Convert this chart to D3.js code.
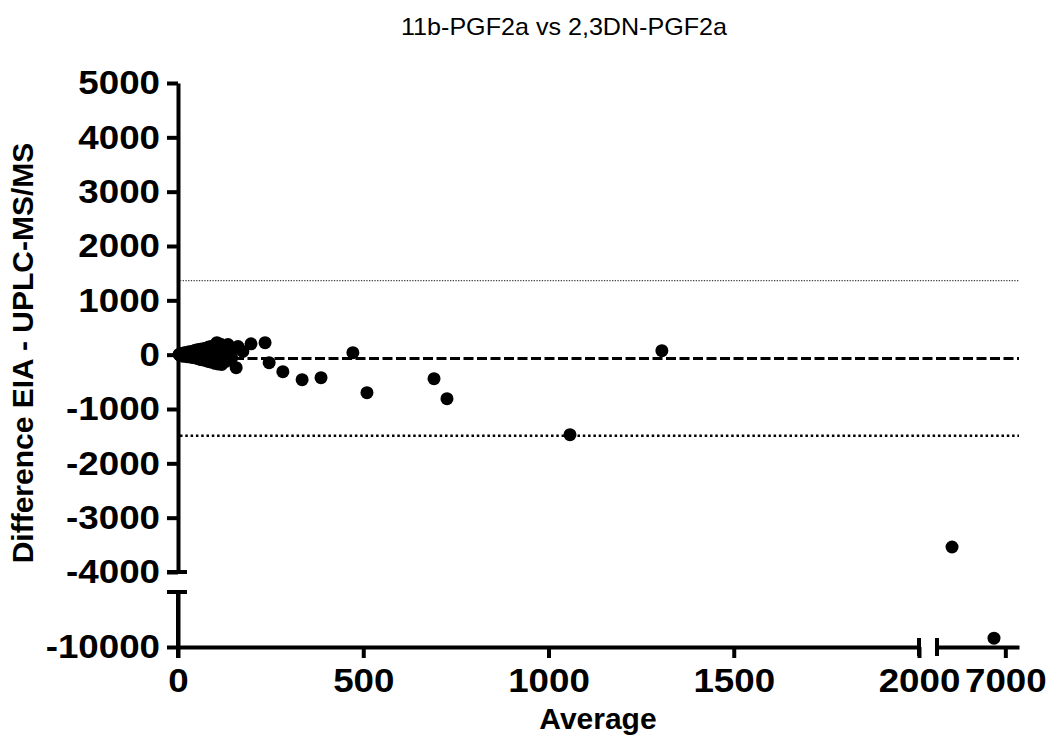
<!DOCTYPE html>
<html>
<head>
<meta charset="utf-8">
<script src="https://cdn.jsdelivr.net/npm/d3@7"></script>
<style>
  body { margin: 0; background: #fff; }
  svg text { font-family: "Liberation Sans", Arial, sans-serif; }
</style>
</head>
<body>
<div id="chart"></div>
<script>
// data
const averages = [3, 5, 6, 8, 10, 12, 14, 15, 18, 20, 22, 25, 27, 30, 32, 35, 38, 40, 42, 45,
  48, 50, 52, 55, 58, 60, 62, 65, 68, 70, 72, 75, 78, 80, 83, 85, 88, 90, 92, 95,
  98, 100, 103, 105, 108, 110, 115, 118, 120, 125, 130, 135, 140, 145, 150, 157, 162, 175,
  197, 235, 246, 283, 335, 386, 472, 510, 691, 726, 1058, 1306, 5050, 6585];
const differences = [5, -8, 12, -15, 20, -10, 25, -30, 35, -20, 10, 40, -40, 55, -25, 30, -50, 65, -10, 75,
  -60, 20, 90, -75, 40, 100, -90, -20, 110, -100, 60, 120, -115, 0, 140, -130, 80, 150, -140, -60,
  170, -160, 110, 220, -170, 30, 190, -180, -90, 160, -120, 185, 80, -60, 120, -240, 150, 60,
  200, 220, -147, -313, -460, -424, 37, -700, -442, -810, -1473, 74, -3540, -9840];

const biasLines = [
  {name: "upper", value: 1363},
  {name: "mean", value: -70},
  {name: "lower", value: -1492}
];

const yTicksUpper = [5000, 4000, 3000, 2000, 1000, 0, -1000, -2000, -3000, -4000];
const yTicksLower = [-10000];
const xTicksMain = [0, 500, 1000, 1500, 2000];
const xTicksBroken = [7000];

const title = "11b-PGF2a vs 2,3DN-PGF2a";
const xTitle = "Average";
const yTitle = "Difference EIA - UPLC-MS/MS";

const width = 1049, height = 738;

const svg = d3.select("#chart").append("svg")
    .attr("width", width)
    .attr("height", height);

// broken scales
const x1 = d3.scaleLinear().domain([0, 2000]).range([178, 919]);
const x2 = d3.scaleLinear().domain([4500, 7500]).range([937, 1019]);
const y1 = d3.scaleLinear().domain([-4000, 5000]).range([572, 83]);
const y2 = d3.scaleLinear().domain([-10000, -9000]).range([647, 592]);

const xPos = a => a <= 2000 ? x1(a) : x2(a);
const yPos = d => d >= -4000 ? y1(d) : y2(d);

const xAxisY = 647, yAxisX = 178;
const fmt = d => String(d); // plain hyphen minus like the original

function styleAxis(g) {
    g.selectAll("path.domain").attr("stroke", "#000").attr("stroke-width", 4);
    g.selectAll(".tick line").attr("stroke", "#000").attr("stroke-width", 4);
    g.selectAll("text")
        .attr("fill", "#000")
        .style("font-size", "34px")
        .style("font-weight", "bold")
        .each(function() {
            // the original labels are a little wider than Liberation Sans
            const w = this.getComputedTextLength();
            d3.select(this).attr("textLength", w * 1.08).attr("lengthAdjust", "spacingAndGlyphs");
        });
}

// y axis, upper part
svg.append("g")
    .attr("transform", `translate(${yAxisX},0)`)
    .call(d3.axisLeft(y1).tickValues(yTicksUpper).tickFormat(fmt)
        .tickSize(11).tickSizeOuter(0).tickPadding(7))
    .call(styleAxis);

// y axis, lower part
svg.append("g")
    .attr("transform", `translate(${yAxisX},0)`)
    .call(d3.axisLeft(y2).tickValues(yTicksLower).tickFormat(fmt)
        .tickSize(11).tickSizeOuter(0).tickPadding(7))
    .call(styleAxis);

// x axis, main part
svg.append("g")
    .attr("transform", `translate(0,${xAxisY})`)
    .call(d3.axisBottom(x1).tickValues(xTicksMain).tickFormat(fmt)
        .tickSize(11).tickSizeOuter(0).tickPadding(10))
    .call(styleAxis);

// x axis, broken part
svg.append("g")
    .attr("transform", `translate(0,${xAxisY})`)
    .call(d3.axisBottom(x2).tickValues(xTicksBroken).tickFormat(fmt)
        .tickSize(11).tickSizeOuter(0).tickPadding(10))
    .call(styleAxis);

// break caps
const caps = svg.append("g").attr("stroke", "#000").attr("stroke-width", 4);
[y1.range()[0], y2.range()[1]].forEach(y => {
    caps.append("line").attr("x1", yAxisX - 11).attr("x2", yAxisX + 9).attr("y1", y).attr("y2", y);
});
[x1.range()[1], x2.range()[0]].forEach(x => {
    caps.append("line").attr("x1", x).attr("x2", x).attr("y1", xAxisY - 9).attr("y2", xAxisY + 9);
});
// y lower segment runs down to the 0 tick
caps.append("line").attr("x1", yAxisX).attr("x2", yAxisX).attr("y1", y2.range()[1]).attr("y2", xAxisY + 11);

// bias and limits of agreement
const lineStyles = {
    upper: {w: 1.2, dash: "1.3,1.4", c: "#444"},
    mean: {w: 3, dash: "10,3.5", c: "#000"},
    lower: {w: 2.5, dash: "2.5,2.8", c: "#000"}
};
svg.append("g").selectAll("line")
    .data(biasLines)
    .join("line")
    .attr("x1", yAxisX + 2)
    .attr("x2", x2.range()[1])
    .attr("y1", d => yPos(d.value))
    .attr("y2", d => yPos(d.value))
    .attr("stroke", d => lineStyles[d.name].c)
    .attr("stroke-width", d => lineStyles[d.name].w)
    .attr("stroke-dasharray", d => lineStyles[d.name].dash);

// points
svg.append("g").selectAll("circle")
    .data(averages.map((a, i) => [a, differences[i]]))
    .join("circle")
    .attr("cx", d => xPos(d[0]))
    .attr("cy", d => yPos(d[1]))
    .attr("r", 6.5)
    .attr("fill", "#000");

// titles
svg.append("text")
    .attr("x", 564)
    .attr("y", 35)
    .attr("text-anchor", "middle")
    .attr("textLength", 326)
    .attr("lengthAdjust", "spacingAndGlyphs")
    .style("font-size", "24px")
    .text(title);

svg.append("text")
    .attr("x", 598)
    .attr("y", 729)
    .attr("text-anchor", "middle")
    .style("font-size", "30px")
    .style("font-weight", "bold")
    .text(xTitle);

svg.append("text")
    .attr("transform", "translate(33,353) rotate(-90)")
    .attr("text-anchor", "middle")
    .style("font-size", "30px")
    .style("font-weight", "bold")
    .text(yTitle);
</script>
</body>
</html>
